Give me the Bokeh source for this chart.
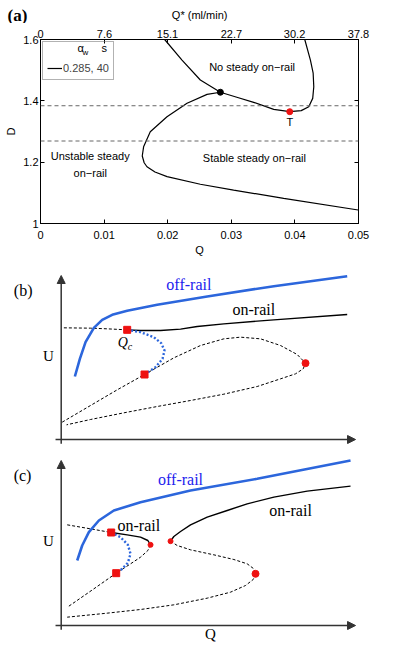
from bokeh.plotting import figure
from bokeh.layouts import column
from bokeh.models import (Range1d, LinearAxis, FixedTicker, Span, Label, Legend,
                          LegendItem, Arrow, NormalHead)
from bokeh.embed import file_html
from bokeh.resources import INLINE

# ---------------- Panel (a) data ----------------
q_ticks = [0, 0.01, 0.02, 0.03, 0.04, 0.05]
qstar_ticks = [0, 7.6, 15.1, 22.7, 30.2, 37.8]
d_ticks = [1, 1.2, 1.4, 1.6]

q_upper = [0.01952, 0.02225, 0.02513, 0.02828, 0.03100, 0.03352, 0.03667, 0.03919,
           0.04100, 0.04218, 0.04280, 0.04297, 0.04287, 0.04244, 0.04155]
d_upper = [1.600, 1.533, 1.468, 1.428, 1.411, 1.395, 1.372, 1.3646,
           1.368, 1.381, 1.408, 1.446, 1.490, 1.533, 1.600]
q_lower = [0.02828, 0.02619, 0.02304, 0.01989, 0.01726, 0.01621, 0.01600, 0.01630,
           0.01674, 0.01800, 0.01990, 0.02513, 0.03037, 0.03824, 0.04995]
d_lower = [1.428, 1.421, 1.392, 1.348, 1.299, 1.250, 1.220, 1.198,
           1.185, 1.168, 1.153, 1.128, 1.109, 1.082, 1.044]
q_junction = [0.02828]
d_junction = [1.428]
q_T = [0.03919]
d_T = [1.3646]
d_thresholds = [1.384, 1.269]

# ---------------- Panel (b) data (schematic units) ----------------
b_axis_q = [-0.17, 8.83]
b_axis_u = [-0.13, 4.92]
b_off_q = [0.41, 0.56, 0.73, 0.98, 1.23, 1.53, 1.98, 2.88, 4.38, 6.38, 8.58]
b_off_u = [1.89, 2.42, 2.92, 3.35, 3.59, 3.74, 3.86, 4.04, 4.29, 4.60, 4.90]
b_on_q = [1.98, 2.38, 2.98, 3.58, 4.08, 4.88, 6.38, 8.58]
b_on_u = [3.29, 3.27, 3.27, 3.31, 3.39, 3.47, 3.59, 3.75]
b_onun_q = [0.08, 0.88, 1.38, 1.98]
b_onun_u = [3.35, 3.34, 3.32, 3.29]
b_offun_q = [1.98, 2.38, 2.78, 3.00, 3.10, 3.04, 2.83, 2.50]
b_offun_u = [3.29, 3.22, 3.07, 2.89, 2.67, 2.42, 2.17, 1.95]
b_loop_q = [0.03, 0.88, 1.68, 2.50, 3.38, 4.18, 4.88, 5.38, 5.98, 6.58, 7.08, 7.33,
            7.26, 7.03, 6.58, 5.88, 4.88, 3.88, 2.88, 1.88, 0.88, 0.16]
b_loop_u = [0.52, 1.02, 1.49, 1.95, 2.45, 2.82, 3.02, 3.07, 3.02, 2.82, 2.55, 2.29,
            2.12, 1.97, 1.82, 1.59, 1.36, 1.17, 0.99, 0.80, 0.60, 0.44]
b_sq_q = [1.98, 2.50]
b_sq_u = [3.29, 1.95]
b_dot_q = [7.33]
b_dot_u = [2.29]

# ---------------- Panel (c) data (schematic units) ----------------
c_axis_q = [-0.17, 8.83]
c_axis_u = [-0.13, 4.95]
c_off_q = [0.48, 0.63, 0.83, 1.13, 1.58, 2.38, 3.88, 5.88, 8.68]
c_off_u = [1.95, 2.40, 2.80, 3.15, 3.45, 3.70, 4.05, 4.40, 4.95]
c_onR_q = [3.28, 3.38, 3.58, 3.88, 4.38, 4.98, 5.58, 6.38, 7.38, 8.68]
c_onR_u = [2.53, 2.67, 2.82, 3.02, 3.25, 3.45, 3.65, 3.85, 4.03, 4.18]
c_midun_q = [3.28, 3.48, 3.88, 4.58, 5.18, 5.58, 5.78, 5.83]
c_midun_u = [2.53, 2.40, 2.27, 2.12, 1.98, 1.85, 1.70, 1.55]
c_lowun_q = [5.83, 5.76, 5.53, 5.08, 4.38, 3.38, 2.38, 1.38, 0.18]
c_lowun_u = [1.55, 1.38, 1.20, 1.00, 0.82, 0.62, 0.48, 0.37, 0.25]
c_leftun_q = [0.18, 0.88, 1.50]
c_leftun_u = [3.02, 2.90, 2.79]
c_onL_q = [1.50, 1.98, 2.38, 2.60, 2.68]
c_onL_u = [2.79, 2.72, 2.65, 2.55, 2.42]
c_foldun_q = [2.68, 2.60, 2.38, 2.08, 1.65, 0.98, 0.23]
c_foldun_u = [2.42, 2.25, 2.05, 1.85, 1.57, 1.10, 0.58]
c_offun_q = [1.50, 1.78, 2.00, 2.08, 2.00, 1.83, 1.65]
c_offun_u = [2.79, 2.65, 2.42, 2.15, 1.88, 1.70, 1.57]
c_sq_q = [1.50, 1.65]
c_sq_u = [2.79, 1.57]
c_small_q = [2.68, 3.28]
c_small_u = [2.42, 2.53]
c_big_q = [5.83]
c_big_u = [1.55]

SANS = "Liberation Sans"
SERIF = "Liberation Serif"
BLUE = "#2c66dc"
BLUE_TXT = "#2222ee"
RED = "#ee1111"
AX = "#333333"


def lab(p, x, y, text, size="11px", font=SANS, color="black", style="normal",
        align="center", baseline="middle"):
    p.add_layout(Label(x=x, y=y, text=text, text_font=font, text_font_size=size,
                       text_color=color, text_font_style=style, text_align=align,
                       text_baseline=baseline, level="overlay"))


# ---------------- header strip for (a) ----------------
ph = figure(width=395, height=23, x_range=Range1d(-0.00634, 0.05582), y_range=Range1d(0, 23),
            output_backend="svg", toolbar_location=None, x_axis_location=None,
            y_axis_location=None, min_border=0, min_border_left=0, min_border_right=0,
            min_border_top=0, min_border_bottom=0)
ph.grid.visible = False
ph.outline_line_color = None
lab(ph, -0.00367, 8.5, "(a)", size="17px", font=SERIF, style="bold")
lab(ph, 0.025, 9, "Q* (ml/min)", size="11px")

# ---------------- Figure (a) ----------------
pa = figure(width=395, height=235, x_range=Range1d(0, 0.05), y_range=Range1d(1, 1.6),
            output_backend="svg", toolbar_location=None,
            min_border_left=40, min_border_right=37, min_border_top=16, min_border_bottom=35,
            x_axis_label="Q", y_axis_label="D")
bottom_ax = pa.below[0]
left_ax = pa.left[0]
bottom_ax.ticker = FixedTicker(ticks=q_ticks)
left_ax.ticker = FixedTicker(ticks=d_ticks)
pa.extra_x_ranges = {"qstar": Range1d(0, 37.8)}
top_ax = LinearAxis(x_range_name="qstar", ticker=FixedTicker(ticks=qstar_ticks))
pa.add_layout(top_ax, "above")
right_ax = LinearAxis(ticker=FixedTicker(ticks=d_ticks))
pa.add_layout(right_ax, "right")
for ax in (bottom_ax, left_ax, top_ax, right_ax):
    ax.major_tick_in = 4
    ax.major_tick_out = 0
    ax.minor_tick_line_color = None
    ax.axis_line_color = "black"
    ax.major_tick_line_color = "black"
    ax.major_label_text_font = SANS
    ax.major_label_text_font_size = "11px"
    ax.major_label_text_color = "black"
    ax.major_label_standoff = 2
    ax.axis_label_text_font = SANS
    ax.axis_label_text_font_size = "11px"
    ax.axis_label_text_font_style = "normal"
    ax.axis_label_text_color = "black"
    ax.axis_label_standoff = 3
bottom_ax.major_label_standoff = 7
bottom_ax.axis_label_standoff = 2
right_ax.major_label_text_color = None
pa.xgrid.visible = False
pa.ygrid.visible = False
pa.outline_line_color = "black"
pa.outline_line_alpha = 1

for d in d_thresholds:
    pa.add_layout(Span(location=d, dimension="width", line_color="#666666",
                       line_dash="4 3", line_width=1))

r_up = pa.line(q_upper, d_upper, line_color="black", line_width=1.2)
pa.line(q_lower, d_lower, line_color="black", line_width=1.2)
pa.scatter(q_junction, d_junction, size=6, color="black")
pa.scatter(q_T, d_T, size=6, color=RED)

leg = Legend(items=[LegendItem(label="0.285, 40", renderers=[r_up])], location="top_left",
             title=" ", title_text_font_size="11px", title_standoff=3,
             label_text_font=SANS, label_text_font_size="11px", label_standoff=1,
             glyph_width=15, glyph_height=14, label_height=14, padding=4, margin=2,
             spacing=0, border_line_color="#666666", background_fill_alpha=0)
pa.add_layout(leg)

lab(pa, 0.00630, 1.571, "α", size="11px")
lab(pa, 0.00705, 1.556, "w", size="8px")
lab(pa, 0.01003, 1.571, "s", size="11px")
lab(pa, 0.03327, 1.511, "No steady on\u2212rail")
lab(pa, 0.03919, 1.332, "T")
lab(pa, 0.00782, 1.220, "Unstable steady")
lab(pa, 0.00782, 1.166, "on\u2212rail")
lab(pa, 0.03363, 1.213, "Stable steady on\u2212rail")


# ---------------- schematic figures ----------------
def schematic(height, y0, y1, aq, au):
    p = figure(width=395, height=height, x_range=Range1d(-1.821, 10.029),
               y_range=Range1d(y0, y1), output_backend="svg", toolbar_location=None,
               x_axis_location=None, y_axis_location=None, min_border=0,
               min_border_left=0, min_border_right=0, min_border_top=0, min_border_bottom=0)
    p.grid.visible = False
    p.outline_line_color = None
    p.add_layout(Arrow(end=NormalHead(size=8, fill_color=AX, line_color=AX),
                       x_start=0, y_start=au[0], x_end=0, y_end=au[1],
                       line_color=AX, line_width=1.5))
    p.add_layout(Arrow(end=NormalHead(size=8, fill_color=AX, line_color=AX),
                       x_start=aq[0], y_start=0, x_end=aq[1], y_end=0,
                       line_color=AX, line_width=1.5))
    return p


pb = schematic(192, -0.33, 5.43, b_axis_q, b_axis_u)
pb.line(b_onun_q, b_onun_u, line_color="black", line_width=1, line_dash="3 2")
pb.line(b_loop_q, b_loop_u, line_color="black", line_width=1, line_dash="3 2")
pb.line(b_on_q, b_on_u, line_color="black", line_width=1.4)
pb.line(b_off_q, b_off_u, line_color=BLUE, line_width=2.6)
pb.line(b_offun_q, b_offun_u, line_color=BLUE, line_width=2.4, line_dash="2 2")
pb.scatter(b_sq_q, b_sq_u, marker="square", size=7, color=RED)
pb.scatter(b_dot_q, b_dot_u, size=7, color=RED)
lab(pb, -1.14, 4.47, "(b)", size="16px", font=SERIF)
lab(pb, -0.38, 2.52, "U", size="15px", font=SERIF)
lab(pb, 3.83, 4.65, "off-rail", size="16px", font=SERIF, color=BLUE_TXT)
lab(pb, 5.78, 3.89, "on-rail", size="16px", font=SERIF)
lab(pb, 1.85, 2.92, "Q", size="14px", font=SERIF, style="italic")
lab(pb, 2.06, 2.80, "c", size="10px", font=SERIF, style="italic")

pc = schematic(198, -0.69, 5.25, c_axis_q, c_axis_u)
pc.line(c_midun_q, c_midun_u, line_color="black", line_width=1, line_dash="3 2")
pc.line(c_lowun_q, c_lowun_u, line_color="black", line_width=1, line_dash="3 2")
pc.line(c_leftun_q, c_leftun_u, line_color="black", line_width=1, line_dash="3 2")
pc.line(c_foldun_q, c_foldun_u, line_color="black", line_width=1, line_dash="3 2")
pc.line(c_onR_q, c_onR_u, line_color="black", line_width=1.4)
pc.line(c_onL_q, c_onL_u, line_color="black", line_width=1.4)
pc.line(c_off_q, c_off_u, line_color=BLUE, line_width=2.6)
pc.line(c_offun_q, c_offun_u, line_color=BLUE, line_width=2.4, line_dash="2 2")
pc.scatter(c_sq_q, c_sq_u, marker="square", size=7, color=RED)
pc.scatter(c_small_q, c_small_u, size=5, color=RED)
pc.scatter(c_big_q, c_big_u, size=7, color=RED)
lab(pc, -1.16, 4.50, "(c)", size="16px", font=SERIF)
lab(pc, -0.38, 2.55, "U", size="15px", font=SERIF)
lab(pc, 4.48, -0.24, "Q", size="15px", font=SERIF)
lab(pc, 3.58, 4.38, "off-rail", size="16px", font=SERIF, color=BLUE_TXT)
lab(pc, 2.33, 3.00, "on-rail", size="16px", font=SERIF)
lab(pc, 6.88, 3.45, "on-rail", size="16px", font=SERIF)

layout = column(column(ph), column(pa), column(pb), column(pc), spacing=0)
open("out.html", "w").write(file_html(layout, INLINE))
